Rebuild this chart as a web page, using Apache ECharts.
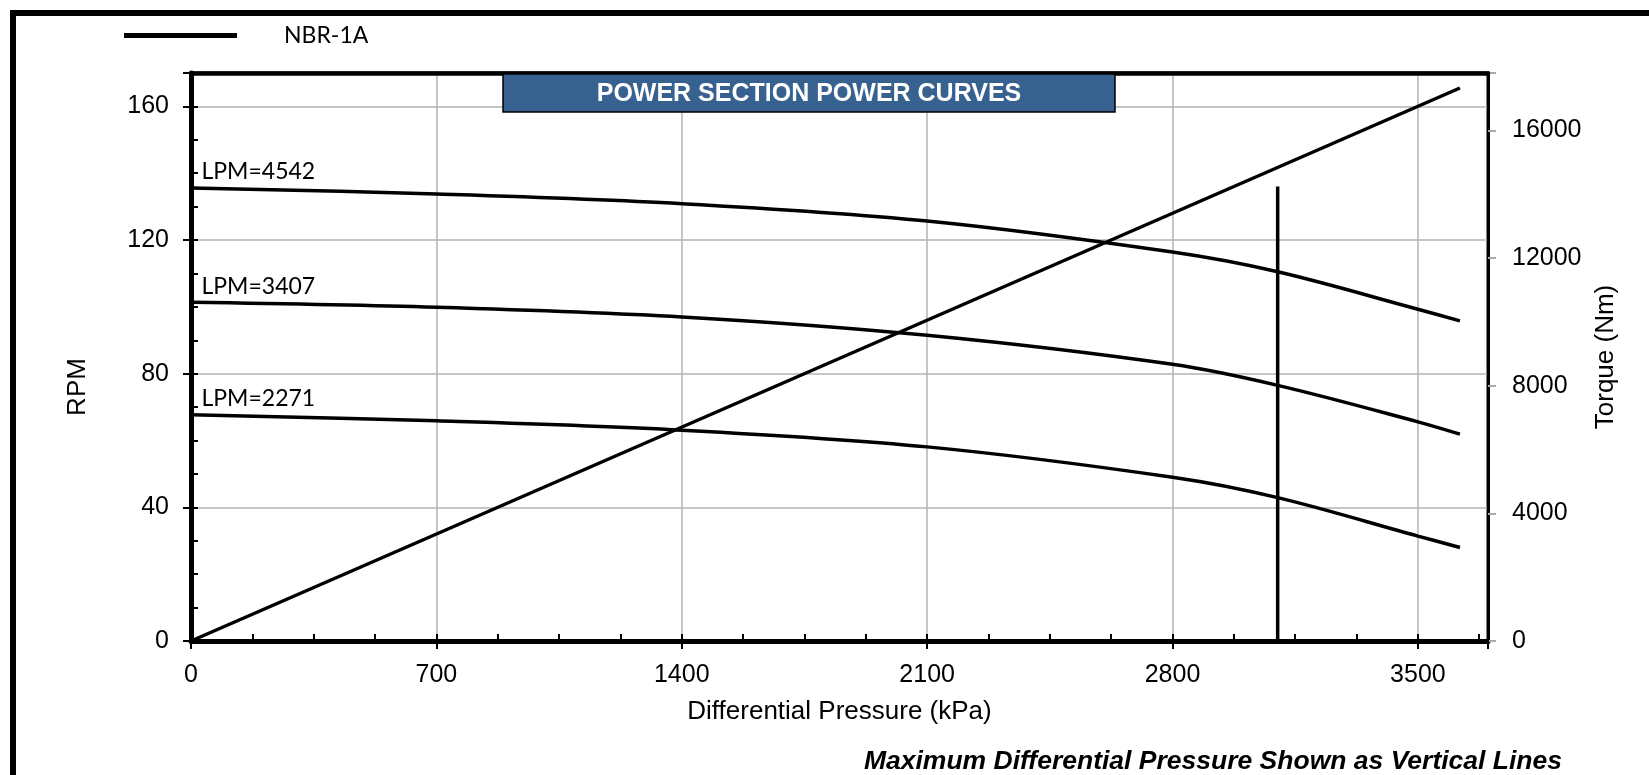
<!DOCTYPE html>
<html>
<head>
<meta charset="utf-8">
<script src="https://cdn.jsdelivr.net/npm/echarts@6/dist/echarts.min.js"></script>
<style>
html,body{margin:0;padding:0;background:#fff;}
#c{width:1649px;height:775px;}
</style>
</head>
<body>
<div id="c"></div>
<script>
// ---- data ----
const pressure   = [0, 700, 1400, 2100, 2800, 3100, 3500, 3620];        // kPa
const rpm4542    = [135.6, 133.8, 130.9, 125.7, 116.4, 110.5, 99.3, 95.8];
const rpm3407    = [101.4, 99.9, 97.0, 91.5, 82.8, 76.5, 65.6, 61.9];
const rpm2271    = [67.7, 65.9, 63.1, 58.1, 49.0, 42.9, 31.4, 28.0];
const torqueX    = [0, 3620];
const torqueNm   = [0, 17330];
const maxDpX     = [3100, 3100];
const maxDpRpm   = [0, 136];
const curveNames = ['LPM=4542', 'LPM=3407', 'LPM=2271'];
const legendName = 'NBR-1A';

const zip = (xs, ys) => xs.map((x, i) => [x, ys[i]]);
const curves = [rpm4542, rpm3407, rpm2271];

const chart = echarts.init(document.getElementById('c'), null, {renderer: 'canvas'});
const axisFont = 'Liberation Sans, Arial, sans-serif';
const lblFont = 'Lato, Open Sans, sans-serif';

const series = curves.map((vals, i) => ({
  name: legendName,
  type: 'line',
  xAxisIndex: 0,
  yAxisIndex: 0,
  data: zip(pressure, vals),
  smooth: 0.35,
  showSymbol: false,
  symbol: 'none',
  lineStyle: {color: '#000', width: 3.5},
  itemStyle: {color: '#000'},
  z: 5,
  markPoint: {
    symbol: 'circle',
    symbolSize: 1,
    itemStyle: {color: 'rgba(0,0,0,0)'},
    silent: true,
    data: [{coord: [pressure[0], vals[0]], value: curveNames[i]}],
    label: {
      show: true,
      formatter: curveNames[i],
      position: 'right',
      offset: [5, -16],
      color: '#000',
      fontFamily: lblFont,
      fontSize: 23
    }
  }
}));

series.push({
  name: legendName,
  type: 'line',
  xAxisIndex: 0,
  yAxisIndex: 1,
  data: zip(torqueX, torqueNm),
  showSymbol: false,
  symbol: 'none',
  lineStyle: {color: '#000', width: 3.5},
  z: 5
});

series.push({
  name: 'max',
  type: 'line',
  xAxisIndex: 0,
  yAxisIndex: 0,
  data: zip(maxDpX, maxDpRpm),
  showSymbol: false,
  symbol: 'none',
  lineStyle: {color: '#000', width: 3.5},
  z: 5
});

const option = {
  backgroundColor: '#fff',
  animation: false,
  grid: {left: 191, right: 161, top: 73, bottom: 134, show: true, borderColor: '#000', borderWidth: 3, containLabel: false},
  legend: {
    data: [legendName],
    left: 119,
    top: 19,
    icon: 'rect',
    itemWidth: 113,
    itemHeight: 5,
    itemStyle: {color: '#000'},
    textStyle: {fontFamily: lblFont, fontSize: 23, color: '#000', padding: [0, 0, 0, 42]},
    selectedMode: false
  },
  xAxis: [{
    type: 'value',
    min: 0, max: 3700, interval: 700,
    position: 'bottom',
    name: 'Differential Pressure (kPa)',
    nameLocation: 'middle',
    nameGap: 58,
    nameTextStyle: {fontFamily: axisFont, fontSize: 26, color: '#000'},
    axisLine: {show: true, onZero: false, lineStyle: {color: '#000', width: 5}},
    axisTick: {show: true, inside: false, length: 8, lineStyle: {color: '#000', width: 2}},
    axisLabel: {margin: 22, fontFamily: axisFont, fontSize: 25, color: '#000',
      formatter: v => (v % 700 === 0 ? String(v) : '')},
    splitLine: {show: true, lineStyle: {color: '#b3b3b3', width: 1.5}}
  }, {
    type: 'value',
    min: 0, max: 3700, interval: 175,
    position: 'bottom',
    gridIndex: 0,
    axisLine: {show: false},
    axisTick: {show: true, inside: true, length: 7, lineStyle: {color: '#000', width: 2}},
    axisLabel: {show: false},
    splitLine: {show: false}
  }, {
    type: 'value',
    min: 0, max: 3700,
    position: 'top',
    gridIndex: 0,
    z: 10,
    axisLine: {show: true, onZero: false, lineStyle: {color: '#000', width: 4.5}},
    axisTick: {show: false},
    axisLabel: {show: false},
    splitLine: {show: false}
  }],
  yAxis: [{
    type: 'value',
    min: 0, max: 170, interval: 40,
    position: 'left',
    name: 'RPM',
    nameLocation: 'middle',
    nameGap: 100,
    nameTextStyle: {fontFamily: axisFont, fontSize: 26, color: '#000', padding: [0, 60, 0, 0]},
    axisLine: {show: true, onZero: false, lineStyle: {color: '#000', width: 5}},
    axisTick: {show: true, inside: false, length: 8, lineStyle: {color: '#000', width: 2}},
    axisLabel: {margin: 22, fontFamily: axisFont, fontSize: 25, color: '#000',
      formatter: v => (v % 40 === 0 ? String(v) : '')},
    splitLine: {show: true, lineStyle: {color: '#b3b3b3', width: 1.5}}
  }, {
    type: 'value',
    min: 0, max: 17800, interval: 4000,
    position: 'right',
    name: 'Torque (Nm)',
    nameLocation: 'middle',
    nameGap: 105,
    nameTextStyle: {fontFamily: axisFont, fontSize: 26, color: '#000'},
    axisLine: {show: true, onZero: false, lineStyle: {color: '#000', width: 3}},
    axisTick: {show: true, inside: false, length: 8, lineStyle: {color: '#aaa', width: 2}},
    axisLabel: {margin: 24, fontFamily: axisFont, fontSize: 25, color: '#000',
      formatter: v => (v % 4000 === 0 ? String(v) : '')},
    splitLine: {show: false}
  }, {
    type: 'value',
    min: 0, max: 170, interval: 10,
    position: 'left',
    axisLine: {show: false},
    axisTick: {show: true, inside: true, length: 7, lineStyle: {color: '#000', width: 2}},
    axisLabel: {show: false},
    splitLine: {show: false}
  }],
  graphic: [
    {type: 'rect', shape: {x: 10, y: 10, width: 1639, height: 6}, style: {fill: '#000'}, z: 100},
    {type: 'rect', shape: {x: 10, y: 10, width: 6, height: 765}, style: {fill: '#000'}, z: 100},
    {type: 'rect', shape: {x: 503, y: 74, width: 612, height: 38}, style: {fill: '#37618f', stroke: '#000', lineWidth: 1.5}, z: 50},
    {type: 'text', x: 809, y: 94, style: {text: 'POWER SECTION POWER CURVES', fill: '#fff', font: 'bold 25px Liberation Sans, Arial, sans-serif', textAlign: 'center', textVerticalAlign: 'middle'}, z: 51},
    {type: 'text', x: 1562, y: 762, style: {text: 'Maximum Differential Pressure Shown as Vertical Lines', fill: '#000', font: 'italic bold 26.5px Liberation Sans, Arial, sans-serif', textAlign: 'right', textVerticalAlign: 'middle'}, z: 51}
  ],
  series: series
};
chart.setOption(option);
</script>
</body>
</html>
